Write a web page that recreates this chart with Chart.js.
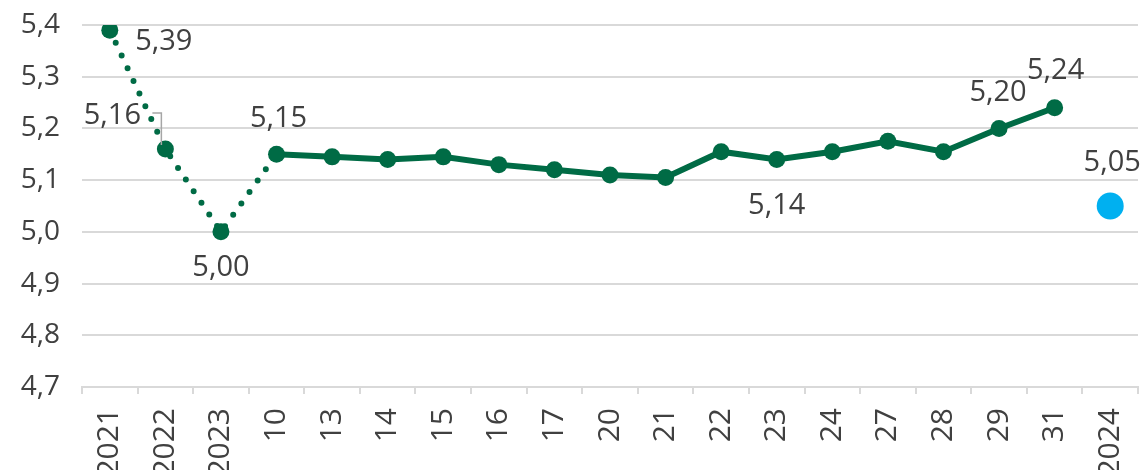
<!DOCTYPE html>
<html>
<head>
<meta charset="utf-8">
<script src="https://cdn.jsdelivr.net/npm/chart.js@4"></script>
<style>
  html, body { margin: 0; padding: 0; background: #fff; overflow: hidden; }
  #chart { display: block; }
</style>
</head>
<body>
<canvas id="chart" width="1141" height="470"></canvas>
<script>
// ---------------- Data ----------------
const categories = ['2021', '2022', '2023', '10', '13', '14', '15', '16', '17', '20',
                    '21', '22', '23', '24', '27', '28', '29', '31', '2024'];
const mainValues = [5.39, 5.16, 5.00, 5.15, 5.145, 5.14, 5.145, 5.13, 5.12, 5.11,
                    5.105, 5.155, 5.14, 5.155, 5.175, 5.155, 5.20, 5.24, null];
const forecastValues = [null, null, null, null, null, null, null, null, null, null,
                        null, null, null, null, null, null, null, null, 5.05];
const yTicks = [4.7, 4.8, 4.9, 5.0, 5.1, 5.2, 5.3, 5.4];

const GREEN = '#006b45';
const BLUE = '#00b0f0';
const TEXT = '#404040';
const FONT = '"Open Sans", sans-serif';

// which points get a value label, and where (offset from the point)
const labelSpots = {
    0: { ds: 0, dx: 54, dy: 12 },
    1: { ds: 0, dx: -53, dy: -33, leader: true },
    2: { ds: 0, dx: 0, dy: 36 },
    3: { ds: 0, dx: 2, dy: -36 },
    12: { ds: 0, dx: 0, dy: 46 },
    16: { ds: 0, dx: -1, dy: -36 },
    17: { ds: 0, dx: 1, dy: -37 },
    18: { ds: 1, dx: 2, dy: -43 }
};

const fmt = v => v.toFixed(2).replace('.', ',');

// ---------------- Value labels ----------------
const valueLabels = {
    id: 'valueLabels',
    afterDatasetsDraw(chart) {
        const ctx = chart.ctx;
        ctx.save();
        ctx.font = '29px ' + FONT;
        ctx.fillStyle = TEXT;
        ctx.textAlign = 'center';
        ctx.textBaseline = 'middle';
        Object.keys(labelSpots).forEach(k => {
            const i = Number(k);
            const s = labelSpots[k];
            const el = chart.getDatasetMeta(s.ds).data[i];
            const v = chart.data.datasets[s.ds].data[i];
            if (!el || v == null) return;
            const tx = el.x + s.dx, ty = el.y + s.dy;
            if (s.leader) {
                ctx.strokeStyle = '#a6a6a6';
                ctx.lineWidth = 1.5;
                ctx.beginPath();
                ctx.moveTo(tx + 40, ty - 3);
                ctx.lineTo(el.x - 4, ty - 3);
                ctx.lineTo(el.x - 4, el.y - 4);
                ctx.stroke();
            }
            ctx.fillText(fmt(v), tx, ty);
        });
        ctx.restore();
    }
};

// ---------------- Chart ----------------
const ctx = document.getElementById('chart').getContext('2d');

new Chart(ctx, {
    type: 'line',
    data: {
        labels: categories,
        datasets: [{
            data: mainValues,
            borderColor: GREEN,
            backgroundColor: GREEN,
            borderWidth: 6,
            pointRadius: 8.5,
            pointHoverRadius: 8.5,
            pointBorderWidth: 0,
            tension: 0,
            segment: {
                borderDash: c => c.p0DataIndex < 3 ? [0, 14] : undefined,
                borderCapStyle: c => c.p0DataIndex < 3 ? 'round' : undefined
            }
        }, {
            data: forecastValues,
            borderColor: BLUE,
            backgroundColor: BLUE,
            showLine: false,
            pointRadius: 13.5,
            pointHoverRadius: 13.5,
            pointBorderWidth: 0
        }]
    },
    options: {
        responsive: false,
        animation: false,
        layout: {
            autoPadding: false,
            padding: { top: 25, right: 3, left: 0, bottom: 0 }
        },
        plugins: {
            legend: { display: false },
            tooltip: { enabled: false }
        },
        scales: {
            x: {
                offset: true,
                grid: {
                    offset: true,
                    drawOnChartArea: false,
                    drawTicks: true,
                    tickLength: 7,
                    color: '#d9d9d9',
                    lineWidth: 2
                },
                border: { display: true, color: '#d9d9d9', width: 2 },
                ticks: {
                    color: TEXT,
                    font: { family: FONT, size: 30 },
                    minRotation: 90,
                    maxRotation: 90,
                    autoSkip: false,
                    padding: 14
                },
                afterFit: s => {
                    s.height = 83;
                    s.paddingLeft = 0;
                    s.paddingRight = 0;
                }
            },
            y: {
                min: yTicks[0],
                max: yTicks[yTicks.length - 1],
                afterBuildTicks: s => { s.ticks = yTicks.map(v => ({ value: v })); },
                grid: { color: '#d9d9d9', lineWidth: 2, drawTicks: false },
                border: { display: false },
                ticks: {
                    color: TEXT,
                    font: { family: FONT, size: 28 },
                    padding: 22,
                    callback: v => v.toFixed(1).replace('.', ',')
                },
                afterFit: s => {
                    s.width = 82;
                    s.paddingTop = 0;
                    s.paddingBottom = 0;
                }
            }
        }
    },
    plugins: [valueLabels]
});
</script>
</body>
</html>
